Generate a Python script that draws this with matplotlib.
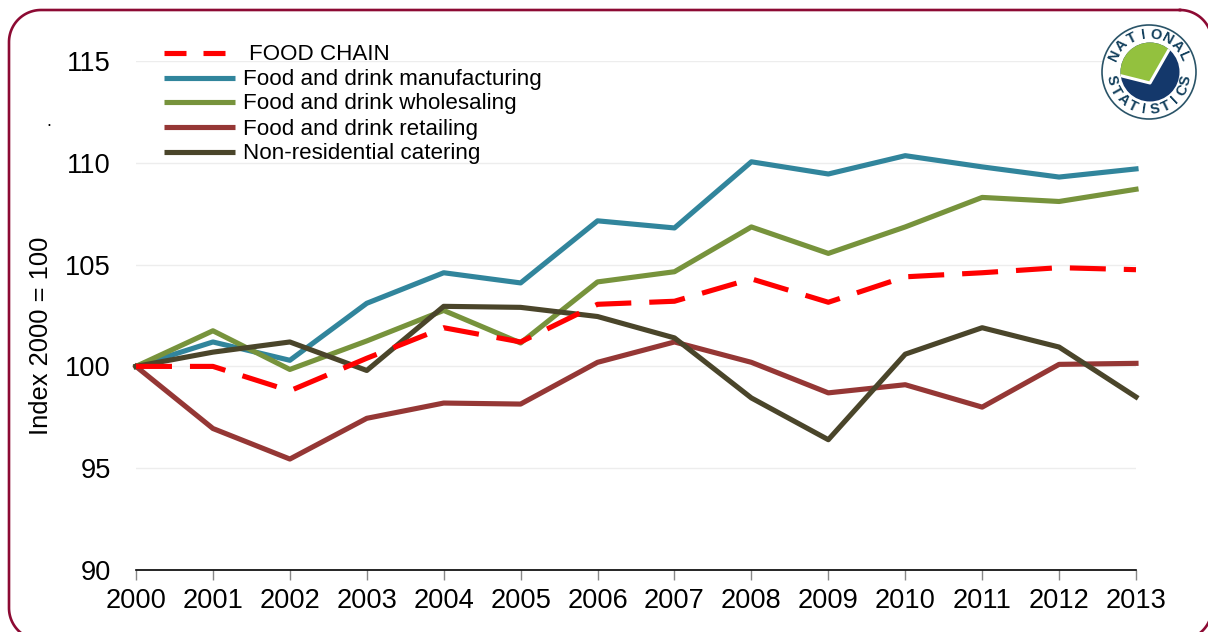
import numpy as np
import matplotlib
matplotlib.use("Agg")
import matplotlib.pyplot as plt
from matplotlib.patches import Circle, Polygon

plt.rcParams["font.family"] = ["Liberation Sans", "DejaVu Sans"]

YEARS = list(range(2000, 2014))
FOOD_CHAIN = [100, 100, 98.8, 100.4, 101.9, 101.2, 103.05, 103.2, 104.3, 103.15, 104.4, 104.6, 104.85, 104.75]
MANUFACTURING = [100, 101.2, 100.3, 103.1, 104.6, 104.1, 107.15, 106.8, 110.05, 109.45, 110.35, 109.8, 109.3, 109.7]
WHOLESALING = [100, 101.75, 99.85, 101.25, 102.75, 101.15, 104.15, 104.65, 106.85, 105.55, 106.85, 108.3, 108.1, 108.7]
RETAILING = [100, 96.95, 95.45, 97.45, 98.2, 98.15, 100.2, 101.2, 100.2, 98.7, 99.1, 98.0, 100.1, 100.15]
CATERING = [100, 100.7, 101.2, 99.8, 102.95, 102.9, 102.45, 101.4, 98.45, 96.4, 100.6, 101.9, 100.95, 98.5]
YTICKS = [90, 95, 100, 105, 110, 115]

RED, TEAL, GREEN, BROWN, DARK = "#FF0000", "#31859C", "#77933C", "#953735", "#4A452A"
W, H = 1208, 632

fig = plt.figure(figsize=(W / 100, H / 100), dpi=100, facecolor="white")

# overlay in pixel coordinates for the frame, legend and logo
over = fig.add_axes([0, 0, 1, 1], zorder=3)
over.set_xlim(0, W)
over.set_ylim(H, 0)
over.axis("off")

ax = fig.add_axes([136 / W, 1 - 570 / H, 1000 / W, 509 / H], zorder=2)
ax.patch.set_alpha(0)
ax.set_xlim(2000, 2013)
ax.set_ylim(90, 115)
ax.set_xticks(YEARS)
ax.set_yticks(YTICKS)
ax.tick_params(axis="x", labelsize=19.6, length=7, width=1, color="#888888", pad=6)
ax.tick_params(axis="y", labelsize=19.6, length=0, pad=18)
ax.grid(axis="y", color="#EDEDED", lw=1)
ax.set_axisbelow(True)
for s in ["top", "right", "left"]:
    ax.spines[s].set_visible(False)
ax.spines["bottom"].set_linewidth(1.2)

LW = 3.7
ax.plot(YEARS, MANUFACTURING, color=TEAL, lw=LW, clip_on=False)
ax.plot(YEARS, WHOLESALING, color=GREEN, lw=LW, clip_on=False)
ax.plot(YEARS, RETAILING, color=BROWN, lw=LW, clip_on=False)
ax.plot(YEARS, CATERING, color=DARK, lw=LW, clip_on=False)
ax.plot(YEARS, FOOD_CHAIN, color=RED, lw=LW, dashes=(7, 3.5), clip_on=False)

over.text(41, 336, "Index 2000 = 100", rotation=90, fontsize=18.4, ha="center", va="center")
over.text(49, 126, ".", fontsize=13, ha="center", va="baseline")

# frame, as a polyline because it runs off the canvas
left, top, right, bottom, r = 9, 10, 1212, 640, 32
corners = [(right - r, top + r, -90), (right - r, bottom - r, 0), (left + r, bottom - r, 90), (left + r, top + r, 180)]
fx, fy = [], []
for ccx, ccy, a0 in corners:
    t = np.radians(np.linspace(a0, a0 + 90, 30))
    fx.extend(ccx + r * np.cos(t))
    fy.extend(ccy + r * np.sin(t))
over.plot(fx + fx[:1], fy + fy[:1], color="#8C0A33", lw=1.9)

# legend
legend_rows = [("FOOD CHAIN", RED, 53, 249), ("Food and drink manufacturing", TEAL, 78, 243),
               ("Food and drink wholesaling", GREEN, 102, 243),
               ("Food and drink retailing", BROWN, 127, 243),
               ("Non-residential catering", DARK, 152, 243)]
for label, color, y, tx in legend_rows:
    if color == RED:
        over.plot([164, 186], [y, y], color=color, lw=LW, solid_capstyle="butt")
        over.plot([203, 225], [y, y], color=color, lw=LW, solid_capstyle="butt")
    else:
        over.plot([164, 235], [y, y], color=color, lw=LW, solid_capstyle="butt")
    over.text(tx, y + 2, label, fontsize=16.1, ha="left", va="center")

# National Statistics logo
cx, cy = 1149, 72
NAVY, LEAF = "#14386B", "#93C13E"
over.add_patch(Circle((cx, cy), 47, fc="white", ec="#2A5468", lw=1.2, zorder=5))
disc = Circle((cx + 1, cy), 29.5, fc=NAVY, ec="none", zorder=6)
over.add_patch(disc)
leaf = Polygon([(1115, 75), (1150, 82), (1169, 48), (1169, 30), (1115, 30)], fc=LEAF, ec="none", zorder=7)
over.add_patch(leaf)
leaf.set_clip_path(disc)
tick = over.plot([1118, 1150, 1170], [75, 83, 48], color="white", lw=2.2, zorder=8)[0]
tick.set_clip_path(disc)


def arc_text(word, start, stop, radius, top):
    for ch, ang in zip(word, np.linspace(start, stop, len(word))):
        a = np.radians(ang)
        x, y = cx + radius * np.sin(a), cy - radius * np.cos(a)
        rot = -ang if top else 180 - ang
        over.text(x, y, ch, fontsize=10.5, fontweight="bold", color="#123F5C", rotation=rot,
                  rotation_mode="anchor", ha="center", va="center", zorder=9)


arc_text("NATIONAL", -64, 66, 38, True)
arc_text("STATISTICS", 258, 102, 38, False)

fig.savefig("out.png", dpi=100)
